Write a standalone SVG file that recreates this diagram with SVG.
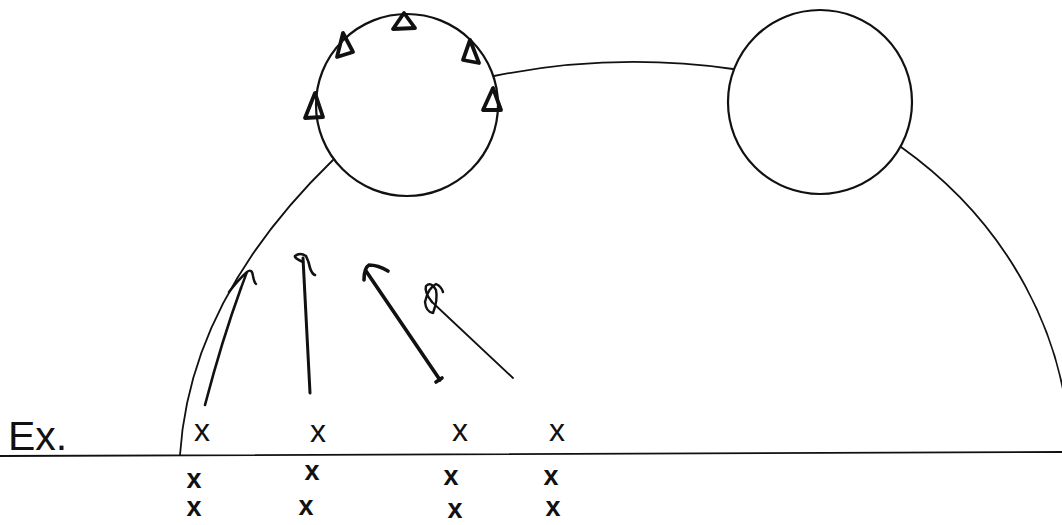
<svg xmlns="http://www.w3.org/2000/svg" width="1062" height="525" viewBox="0 0 1062 525">
  <style>
    .ink { fill: none; stroke: #111; stroke-linecap: round; stroke-linejoin: round; }
    .thin { stroke-width: 1.8; }
    .ring { stroke-width: 2.2; }
    .tri { stroke-width: 3.8; }
    .mark { font-family: "Liberation Sans", Arial, sans-serif; fill: #111; text-anchor: middle; }
    .big { font-size: 32px; }
    .small { font-size: 27px; font-weight: bold; }
    .label { font-family: "Liberation Sans", Arial, sans-serif; font-size: 41px; fill: #111; }
  </style>
  <rect width="1062" height="525" fill="#fff"/>

  <!-- ground line -->
  <g id="ground">
    <path class="ink thin" d="M0 456 L1062 452"/>
  </g>

  <!-- large dome, broken where the two spheres sit -->
  <g id="dome">
    <path class="ink thin" d="M180 455 C186 360 230 260 333 160"/>
    <path class="ink thin" d="M494 76 Q613 52 733 69"/>
    <path class="ink thin" d="M901 147 A445 400 0 0 1 1070 460"/>
  </g>

  <!-- left sphere with triangle markers on its rim -->
  <g id="sphere-left">
    <circle class="ink ring" cx="407" cy="105" r="91"/>
    <path class="ink tri" d="M404 13 L393 29 L415 28 Z"/>
    <path class="ink tri" d="M343 33 L337 57 L353 52 Z"/>
    <path class="ink tri" d="M470 40 L463 60 L479 63 Z"/>
    <path class="ink tri" d="M315 93 L305 118 L323 117 Z"/>
    <path class="ink tri" d="M493 88 L483 110 L501 110 Z"/>
  </g>

  <!-- right sphere -->
  <g id="sphere-right">
    <circle class="ink ring" cx="820" cy="102" r="92"/>
  </g>

  <!-- arrows rising from the ground -->
  <g id="connectors">
    <path class="ink" stroke-width="2.6" d="M205 405 Q222 340 241 288"/>
    <path class="ink" stroke-width="2.4" d="M229 292 Q238 280 247 272 Q252 268 253 276 Q254 282 256 284 M241 288 L247 272"/>

    <path class="ink" stroke-width="3" d="M310 393 L303 258"/>
    <path class="ink" stroke-width="2.6" d="M303 262 Q294 258 295 256 Q300 252 306 256 Q309 262 310 268 Q312 274 315 275"/>

    <path class="ink" stroke-width="3.6" d="M440 380 L366 271 M436 382 L442 378"/>
    <path class="ink" stroke-width="3.6" d="M364 280 Q364 268 369 265 Q378 265 388 271"/>

    <path class="ink" stroke-width="1.8" d="M513 378 L432 302"/>
    <path class="ink" stroke-width="2.4" d="M432 302 Q424 292 426 286 Q431 281 436 290 Q438 300 433 313 Q426 312 425 302 Q428 288 436 284 Q441 286 443 292"/>
  </g>

  <!-- example label -->
  <g id="label">
    <text class="label" x="8" y="450">Ex.</text>
  </g>

  <!-- rows of crosses -->
  <g id="marks">
    <text class="mark big" x="202" y="441">x</text>
    <text class="mark big" x="318" y="442">x</text>
    <text class="mark big" x="460" y="441">x</text>
    <text class="mark big" x="557" y="441">x</text>

    <text class="mark small" x="194" y="488">x</text>
    <text class="mark small" x="312" y="480">x</text>
    <text class="mark small" x="451" y="485">x</text>
    <text class="mark small" x="551" y="485">x</text>

    <text class="mark small" x="194" y="516">x</text>
    <text class="mark small" x="306" y="515">x</text>
    <text class="mark small" x="455" y="518">x</text>
    <text class="mark small" x="553" y="516">x</text>
  </g>
</svg>
